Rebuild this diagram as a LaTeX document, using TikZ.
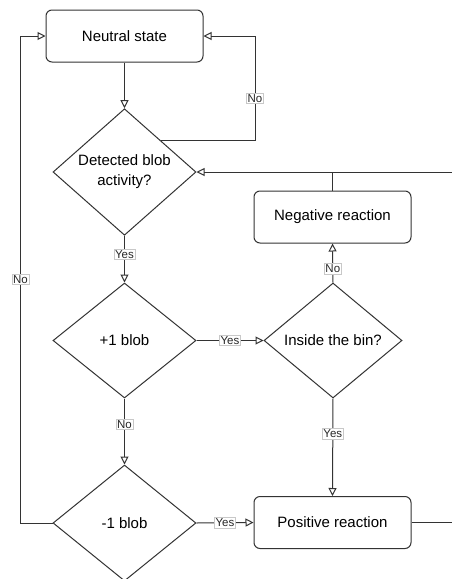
\documentclass[tikz,border=0pt]{standalone}
\usepackage{fontspec}
\setmainfont{Liberation Sans}
\usetikzlibrary{shapes.geometric,arrows.meta,calc}
\definecolor{lc}{HTML}{333333}
\definecolor{lblborder}{HTML}{C8C8C8}
\begin{document}
\begin{tikzpicture}[x=1pt,y=-1pt,line width=1pt,
  box/.style={draw=lc, rounded corners=6pt, minimum width=157pt, minimum height=52pt, inner sep=0pt, font=\fontsize{15}{20}\selectfont},
  dia/.style={draw=lc, diamond, inner sep=0pt, align=center, font=\fontsize{15}{20}\selectfont},
  arr/.style={draw=lc, -{Triangle[open,length=8pt,width=8pt]}},
  ln/.style={draw=lc},
  lbl/.style={draw=lblborder, fill=white, line width=0.6pt, inner sep=1.2pt, font=\fontsize{11.5}{13}\selectfont, text=black!85}
]
\useasboundingbox (0,0) rectangle (452,579);
\fill[white] (0,0) rectangle (452,579);

\node[box] (neutral) at (124.5,36) {Neutral state};
\node[dia, minimum width=143pt, minimum height=116pt] (d1) at (124.5,172) {Detected blob\\activity?};
\node[box] (neg) at (332.5,217) {Negative reaction};
\node[dia, minimum width=143pt, minimum height=115pt] (d2) at (124.5,340.5) {+1 blob};
\node[dia, minimum width=138pt, minimum height=115pt] (d3) at (333,340.5) {Inside the bin?};
\node[dia, minimum width=143pt, minimum height=116pt] (d4) at (124.5,523) {-1 blob};
\node[box] (pos) at (332.5,522.5) {Positive reaction};

\coordinate (redgeA) at (452,522.5);
\coordinate (redgeB) at (452,172);

% Neutral -> d1
\draw[arr] (neutral.south) -- (d1.north);
% d1 No loop back to neutral
\draw[arr] ($(d1.north)!0.5!(d1.east)$) -- ++(94.5,0) coordinate (nl)
  -- node[lbl, pos=0.4] {No} (nl |- neutral.east) -- (neutral.east);
% d1 Yes -> d2
\draw[arr] (d1.south) -- node[lbl, pos=0.4] {Yes} (d2.north);
% d2 Yes -> d3
\draw[arr] (d2.east) -- node[lbl, pos=0.5] {Yes} (d3.west);
% d2 No -> d4
\draw[arr] (d2.south) -- node[lbl, pos=0.39] {No} (d4.north);
% d3 No -> neg
\draw[arr] (d3.north) -- node[lbl, pos=0.35] {No} (neg.south);
% d3 Yes -> pos
\draw[arr] (d3.south) -- node[lbl, pos=0.36] {Yes} (pos.north);
% d4 Yes -> pos
\draw[arr] (d4.east) -- node[lbl, pos=0.5] {Yes} (pos.west);
% d4 No -> neutral
\draw[arr] (d4.west) -- ++(-32,0) coordinate (ll)
  -- node[lbl, pos=0.5] {No} (ll |- neutral.west) -- (neutral.west);
% return lines from right
\draw[ln] (pos.east) -- (redgeA);
\draw[arr] (redgeB) -- (d1.east);
\draw[ln] (neg.north) -- (neg.north |- d1.east);
\end{tikzpicture}
\end{document}
